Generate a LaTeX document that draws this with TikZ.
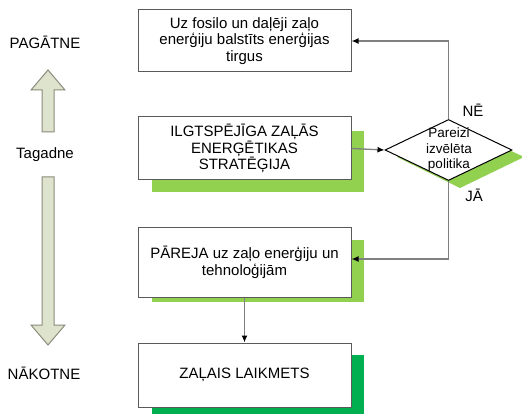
\documentclass[tikz,border=0pt]{standalone}
\usepackage{fontspec}
\setmainfont{Liberation Sans}
\usetikzlibrary{shapes.geometric,arrows.meta}

\definecolor{lightgreen}{HTML}{92D050}
\definecolor{darkgreen}{HTML}{00B050}
\definecolor{framegray}{HTML}{5A5A5A}
\definecolor{linegray}{HTML}{808080}
\definecolor{arrowfill}{HTML}{DDE3CC}
\definecolor{arrowedge}{HTML}{8C8C7C}

\tikzset{
  stagebox/.style={draw=framegray, line width=1pt, fill=white, minimum width=213pt,
    inner sep=0pt, align=center, font=\fontsize{15}{16.7}\selectfont},
  decision/.style={draw=black, line width=1pt, fill=white, shape=diamond,
    minimum width=127pt, minimum height=61pt, inner sep=0pt},
  flow/.style={draw=linegray, line width=1.3pt, -{Latex[length=7pt,width=6pt,black]}},
  timelabel/.style={font=\fontsize{15}{17}\selectfont},
  branchlabel/.style={fill=white, inner sep=1pt, font=\fontsize{15}{17}\selectfont},
  timearrow/.style={draw=arrowedge, line width=1pt, fill=arrowfill, line join=miter}
}

\begin{document}
\begin{tikzpicture}[x=1pt,y=-1pt]
\useasboundingbox (0,0) rectangle (522,414);
\fill[white] (0,0) rectangle (522,414);

% coloured drop shadows behind the boxes
\fill[lightgreen] (152,131) rectangle (364,192);
\fill[lightgreen] (152,240) rectangle (364,302);
\fill[darkgreen] (152,355) rectangle (364,414);
\begin{scope}
  \clip (0,0) rectangle (522,414);
  \fill[lightgreen] (397,157) -- (460,127) -- (524,157) -- (460,188) -- cycle;
\end{scope}

% stage boxes
\node[stagebox, minimum height=62pt] (past) at (244.5,41)
  {Uz fosilo un daļēji zaļo\\enerģiju balstīts enerģijas\\tirgus};
\node[stagebox, minimum height=63pt] (strategy) at (244.5,148.5)
  {ILGTSPĒJĪGA ZAĻĀS\\ENERĢĒTIKAS\\STRATĒĢIJA};
\node[stagebox, minimum height=69pt] (transition) at (244.5,262.5)
  {PĀREJA uz zaļo enerģiju un\\tehnoloģijām};
\node[stagebox, minimum height=64pt] (green) at (244.5,375)
  {ZAĻAIS LAIKMETS};

% policy decision
\node[decision] (policy) at (448.5,150) {};
\node[align=center, inner sep=0pt, font=\fontsize{13.5}{15.5}\selectfont] (policytext)
  at (449,150) {Pareizi\\izvēlēta\\politika};

% connectors
\coordinate (noturn) at (policy.north |- past.east);
\coordinate (yesturn) at (policy.south |- 0,259);
\draw[flow] (strategy.east) -- (policy.west);
\draw[flow] (policy.north) -- (noturn) -- (past.east);
\draw[flow] (policy.south) -- (yesturn) -- (transition.east |- yesturn);
\draw[flow] (transition.south) -- (green.north);

\node[branchlabel] (no) at (473,110) {NĒ};
\node[branchlabel] (yes) at (474,195) {JĀ};

% time axis
\node[timelabel] (pasttime) at (45,42) {PAGĀTNE};
\node[timelabel] (now) at (45,155) {Tagadne};
\node[timelabel] (future) at (44,373) {NĀKOTNE};

\draw[timearrow] (48,70) -- (65,90) -- (54,90) -- (54,132) -- (42,132) -- (42,90)
  -- (31,90) -- cycle;
\draw[timearrow] (48,345) -- (65,325) -- (54,325) -- (54,177) -- (42,177) -- (42,325)
  -- (31,325) -- cycle;
\end{tikzpicture}
\end{document}
